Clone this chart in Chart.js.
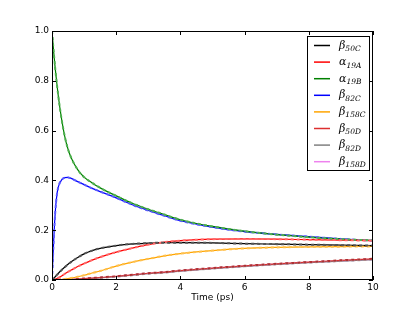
<!DOCTYPE html>
<html><head><meta charset="utf-8">
<script src="https://cdn.jsdelivr.net/npm/chart.js@4/dist/chart.umd.min.js"></script>
<style>html,body{margin:0;padding:0;background:#fff}#wrap{width:415px;height:312px}</style>
</head><body><div id="wrap"><canvas id="c" width="415" height="312"></canvas></div>
<script>
// ---- data ----
const times   = [0, 0.05, 0.1, 0.15, 0.2, 0.3, 0.4, 0.5, 0.6, 0.8, 1.0, 1.25, 1.5, 2, 2.5, 3, 3.5, 4, 5, 6, 7, 8, 9, 10];
const beta50C  = [0, 0.006, 0.013, 0.02, 0.027, 0.04, 0.052, 0.063, 0.073, 0.09, 0.105, 0.118, 0.127, 0.138, 0.145, 0.148, 0.15, 0.15, 0.149, 0.146, 0.144, 0.142, 0.14, 0.138];
const alpha19A = [0, 0.001, 0.003, 0.006, 0.009, 0.016, 0.025, 0.033, 0.04, 0.054, 0.066, 0.08, 0.092, 0.112, 0.128, 0.142, 0.152, 0.158, 0.164, 0.165, 0.164, 0.162, 0.16, 0.158];
const alpha19B = [1.0, 0.92, 0.85, 0.79, 0.735, 0.645, 0.575, 0.525, 0.49, 0.443, 0.413, 0.39, 0.37, 0.338, 0.308, 0.284, 0.263, 0.242, 0.215, 0.196, 0.182, 0.172, 0.164, 0.159];
const beta82C  = [0, 0.15, 0.27, 0.34, 0.375, 0.402, 0.411, 0.412, 0.408, 0.395, 0.383, 0.368, 0.355, 0.33, 0.302, 0.279, 0.258, 0.238, 0.212, 0.194, 0.183, 0.174, 0.165, 0.158];
const beta158C = [0, 0, 0, 0.001, 0.001, 0.002, 0.004, 0.006, 0.008, 0.013, 0.019, 0.028, 0.036, 0.056, 0.072, 0.085, 0.097, 0.106, 0.118, 0.127, 0.131, 0.133, 0.134, 0.135];
const beta50D  = [0, 0, 0, 0, 0.001, 0.001, 0.002, 0.003, 0.003, 0.004, 0.006, 0.008, 0.01, 0.015, 0.021, 0.027, 0.032, 0.038, 0.048, 0.057, 0.065, 0.072, 0.079, 0.085];
const beta82D  = [0, 0, 0, 0, 0, 0.001, 0.001, 0.002, 0.002, 0.003, 0.004, 0.006, 0.008, 0.013, 0.019, 0.025, 0.03, 0.036, 0.046, 0.055, 0.063, 0.07, 0.076, 0.082];
const beta158D = [0, 0, 0, 0, 0.001, 0.001, 0.002, 0.002, 0.003, 0.004, 0.005, 0.007, 0.009, 0.014, 0.02, 0.026, 0.031, 0.037, 0.047, 0.056, 0.064, 0.071, 0.077, 0.083];

const seriesValues  = [beta50C, alpha19A, alpha19B, beta82C, beta158C, beta50D, beta82D, beta158D];
const seriesLetters = ['β', 'α', 'α', 'β', 'β', 'β', 'β', 'β'];
const seriesSubs    = ['50C', '19A', '19B', '82C', '158C', '50D', '82D', '158D'];
const seriesColors  = ['#000000', '#ff0000', '#008000', '#0000ff', '#ffa500', '#dc2f2f', '#808080', '#ee82ee'];
const dashColors    = ['#555555', '#ff6a6a', '#4fb04f', '#5a5aff', '#ffc04d', '#b03030', '#a8a8a8', '#d070d0'];
const xTicks = [0, 2, 4, 6, 8, 10];
const yTicks = [0, 0.2, 0.4, 0.6, 0.8, 1.0];
const xTitle = 'Time (ps)';

function pts(vals) { return times.map((t, i) => ({x: t, y: vals[i]})); }

const datasets = [];
seriesValues.forEach((vals, k) => {
  datasets.push({
    label: 'dash' + k, data: pts(vals), borderColor: dashColors[k], borderWidth: 2,
    borderDash: [3, 3], pointRadius: 0, fill: false, cubicInterpolationMode: 'monotone'
  });
});
seriesValues.forEach((vals, k) => {
  datasets.push({
    label: seriesLetters[k] + seriesSubs[k], data: pts(vals), borderColor: seriesColors[k], borderWidth: 1.2,
    pointRadius: 0, fill: false, cubicInterpolationMode: 'monotone'
  });
});

const frame = {
  id: 'frame',
  afterDatasetsDraw(chart) {
    const ctx = chart.ctx, a = chart.chartArea, xs = chart.scales.x, ys = chart.scales.y;
    ctx.save();
    ctx.strokeStyle = '#000'; ctx.lineWidth = 1;
    ctx.strokeRect(Math.round(a.left) + 0.5, Math.round(a.top) + 0.5, Math.round(a.right - a.left) - 1, Math.round(a.bottom - a.top) - 1);
    ctx.beginPath();
    xTicks.forEach(v => {
      const x = Math.round(xs.getPixelForValue(v)) + 0.5;
      ctx.moveTo(x, a.bottom); ctx.lineTo(x, a.bottom - 4);
      ctx.moveTo(x, a.top); ctx.lineTo(x, a.top + 4);
    });
    yTicks.forEach(v => {
      const y = Math.round(ys.getPixelForValue(v)) + 0.5;
      ctx.moveTo(a.left, y); ctx.lineTo(a.left + 4, y);
      ctx.moveTo(a.right, y); ctx.lineTo(a.right - 4, y);
    });
    ctx.stroke();
    // legend
    const bx = 307.5, by = 36.5, bw = 62, bh = 134, step = 16.6, y0 = 45.5;
    ctx.fillStyle = '#fff';
    ctx.fillRect(bx, by, bw, bh);
    ctx.strokeRect(bx, by, bw, bh);
    seriesColors.forEach((c, k) => {
      const y = y0 + k * step;
      ctx.strokeStyle = c; ctx.lineWidth = 1.5;
      ctx.beginPath(); ctx.moveTo(314, y); ctx.lineTo(330, y); ctx.stroke();
      ctx.fillStyle = '#000';
      ctx.textBaseline = 'alphabetic'; ctx.textAlign = 'left';
      ctx.font = 'italic 11px "DejaVu Serif"';
      ctx.fillText(seriesLetters[k], 339, y + 3);
      const w = ctx.measureText(seriesLetters[k]).width;
      ctx.font = 'italic 7.5px "DejaVu Serif"';
      ctx.fillText(seriesSubs[k], 339 + w, y + 5.5);
    });
    ctx.restore();
  }
};

new Chart(document.getElementById('c'), {
  type: 'line',
  data: {datasets},
  options: {
    responsive: false, animation: false, devicePixelRatio: 1,
    layout: {padding: {top: 31, right: 42, left: 0, bottom: 0}},
    plugins: {legend: {display: false}, tooltip: {enabled: false}},
    scales: {
      x: {
        type: 'linear', min: 0, max: 10,
        afterBuildTicks: s => { s.ticks = xTicks.map(v => ({value: v})); },
        ticks: {font: {family: 'DejaVu Sans', size: 9}, color: '#000', padding: 2, maxRotation: 0},
        grid: {display: false, drawTicks: false}, border: {display: false},
        title: {display: true, text: xTitle, font: {family: 'DejaVu Sans', size: 9}, color: '#000', padding: {top: 0, bottom: 9}},
        afterFit: s => { s.height = 32; }
      },
      y: {
        type: 'linear', min: 0, max: 1,
        afterBuildTicks: s => { s.ticks = yTicks.map(v => ({value: v})); },
        ticks: {font: {family: 'DejaVu Sans', size: 9}, color: '#000', padding: 3, callback: v => Number(v).toFixed(1)},
        grid: {display: false, drawTicks: false}, border: {display: false},
        afterFit: s => { s.width = 52; }
      }
    }
  },
  plugins: [frame]
});
</script></body></html>
